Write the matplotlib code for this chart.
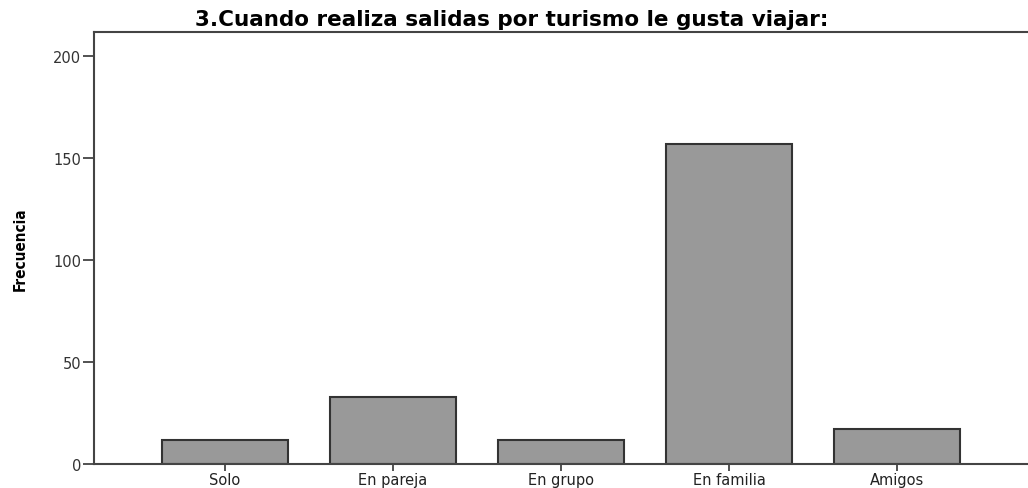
import matplotlib.pyplot as plt
from matplotlib import font_manager

# datos de la pregunta 3
categorias = ["Solo", "En pareja", "En grupo", "En familia", "Amigos"]
frecuencias = [12, 33, 12, 157, 17]
ticks_y = [0, 50, 100, 150, 200]

names = {f.name for f in font_manager.fontManager.ttflist}
narrow = "Liberation Sans Narrow" if "Liberation Sans Narrow" in names else "DejaVu Sans"

plt.rcParams["font.family"] = ["DejaVu Sans"]

fig = plt.figure(figsize=(10.28, 4.89), dpi=100)
ax = fig.add_axes([94 / 1028, (489 - 465) / 489, (1028 - 94) / 1028, (465 - 33) / 489])

x = list(range(len(categorias)))
ax.bar(x, frecuencias, width=0.755, color="#999999", edgecolor="#333333", linewidth=1.5)

ax.set_xlim(-0.78, 4.78)
ax.set_ylim(0, 211.8)
ax.set_xticks(x)
ax.set_xticklabels(categorias, fontsize=10.5, color="#222222")
ax.set_yticks(ticks_y)
ax.set_yticklabels([str(t) for t in ticks_y], fontsize=10.5, color="#333333")
ax.tick_params(axis="y", length=8, width=1.2, color="#333333", pad=1)
ax.tick_params(axis="x", length=5, width=1.2, color="#333333", pad=1)

for s in ["left", "top", "bottom"]:
    ax.spines[s].set_color("#444444")
    ax.spines[s].set_linewidth(1.5)
ax.spines["right"].set_visible(False)

fig.text(512 / 1028, 1 - 20 / 489, "3.Cuando realiza salidas por turismo le gusta viajar:",
         ha="center", va="center", fontsize=15.5, fontweight="bold")
fig.text(20 / 1028, 1 - 249 / 489, "Frecuencia", rotation=90, ha="center", va="center",
         fontsize=11, fontweight="bold", fontstretch="condensed", family=[narrow, "DejaVu Sans"])

fig.savefig("out.png", dpi=100)
